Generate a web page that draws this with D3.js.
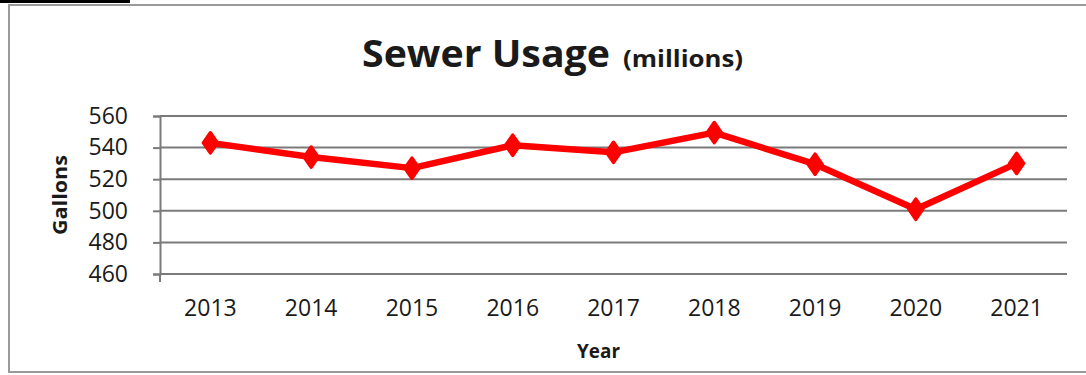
<!DOCTYPE html>
<html>
<head>
<meta charset="utf-8">
<script src="https://cdn.jsdelivr.net/npm/d3@7"></script>
<style>
  body { margin: 0; background: #fff; }
  text { font-family: "Open Sans", "Liberation Sans", sans-serif; fill: #1a1a1a; }
</style>
</head>
<body>
<div id="chart"></div>
<script>
/* DATA */
var years = ["2013", "2014", "2015", "2016", "2017", "2018", "2019", "2020", "2021"];
var gallons = [543, 534, 527, 541.5, 537, 549.5, 529.5, 501, 530];
var yTicks = [460, 480, 500, 520, 540, 560];

var W = 1086, H = 375;
var margin = {top: 116, right: 19, bottom: 101, left: 160};
var width = W - margin.left - margin.right,
    height = H - margin.top - margin.bottom;

var data = years.map(function(y, i) { return {year: y, value: gallons[i]}; });

var svg = d3.select("#chart").append("svg")
  .attr("width", W)
  .attr("height", H);

// outer frame and the cut-off black bar at top left
svg.append("rect")
  .attr("x", 9).attr("y", 5)
  .attr("width", W + 10).attr("height", 367)
  .attr("fill", "#fff")
  .attr("stroke", "#9a9a9a")
  .attr("stroke-width", 2);
svg.append("rect")
  .attr("x", 0).attr("y", 0)
  .attr("width", 130).attr("height", 3)
  .attr("fill", "#000");

var g = svg.append("g")
  .attr("transform", "translate(" + margin.left + "," + margin.top + ")");

// scales
var x = d3.scaleBand().domain(years).range([0, width]).padding(0);
var y = d3.scaleLinear().domain([460, 560]).range([height, 0]);

// gridlines
g.selectAll(".grid")
  .data(yTicks)
  .enter().append("line")
  .attr("class", "grid")
  .attr("x1", 0).attr("x2", width)
  .attr("y1", function(d) { return y(d); })
  .attr("y2", function(d) { return y(d); })
  .attr("stroke", "#7a7a7a")
  .attr("stroke-width", 2);

// y axis
var yAxis = g.append("g")
  .call(d3.axisLeft(y).tickValues(yTicks).tickSize(7).tickPadding(25).tickFormat(d3.format("d")));
yAxis.select(".domain").attr("stroke", "#7a7a7a").attr("stroke-width", 2);
yAxis.selectAll(".tick line").attr("stroke", "#7a7a7a").attr("stroke-width", 2);
yAxis.selectAll("text")
  .attr("fill", "#1a1a1a")
  .style("font-size", "23px")
  .style("font-family", "'Open Sans', sans-serif");

// x axis (labels only, plus the corner tick)
var xAxis = g.append("g")
  .attr("transform", "translate(0," + height + ")")
  .call(d3.axisBottom(x).tickSize(0).tickPadding(26));
xAxis.select(".domain").remove();
xAxis.selectAll("text")
  .attr("fill", "#1a1a1a")
  .style("font-size", "23px")
  .style("font-family", "'Open Sans', sans-serif");
g.append("line")
  .attr("x1", 0).attr("x2", 0)
  .attr("y1", height).attr("y2", height + 8)
  .attr("stroke", "#7a7a7a").attr("stroke-width", 2);

// line
var line = d3.line()
  .x(function(d) { return x(d.year) + x.bandwidth() / 2; })
  .y(function(d) { return y(d.value); });

g.append("path")
  .datum(data)
  .attr("fill", "none")
  .attr("stroke", "#ff0000")
  .attr("stroke-width", 6.5)
  .attr("stroke-linejoin", "round")
  .attr("d", line);

// diamond markers
g.selectAll(".marker")
  .data(data)
  .enter().append("path")
  .attr("class", "marker")
  .attr("d", d3.symbol().type(d3.symbolDiamond).size(130))
  .attr("transform", function(d) {
    return "translate(" + (x(d.year) + x.bandwidth() / 2) + "," + y(d.value) + ") scale(1.2,1)";
  })
  .attr("fill", "#ff0000")
  .attr("stroke", "#ff0000")
  .attr("stroke-width", 2.5)
  .attr("stroke-linejoin", "round");

// title
svg.append("text")
  .attr("x", 362).attr("y", 67)
  .attr("textLength", 248)
  .attr("lengthAdjust", "spacingAndGlyphs")
  .style("font-size", "37px")
  .style("font-weight", "bold")
  .text("Sewer Usage");
svg.append("text")
  .attr("x", 623).attr("y", 67)
  .attr("textLength", 120)
  .attr("lengthAdjust", "spacingAndGlyphs")
  .style("font-size", "23px")
  .style("font-weight", "bold")
  .text("(millions)");

// axis titles
svg.append("text")
  .attr("transform", "translate(67,195) rotate(-90)")
  .attr("x", -40)
  .attr("textLength", 80)
  .attr("lengthAdjust", "spacingAndGlyphs")
  .style("font-size", "20px")
  .style("font-weight", "bold")
  .text("Gallons");

svg.append("text")
  .attr("x", 577).attr("y", 358)
  .attr("textLength", 43)
  .attr("lengthAdjust", "spacingAndGlyphs")
  .style("font-size", "20px")
  .style("font-weight", "bold")
  .text("Year");
</script>
</body>
</html>
